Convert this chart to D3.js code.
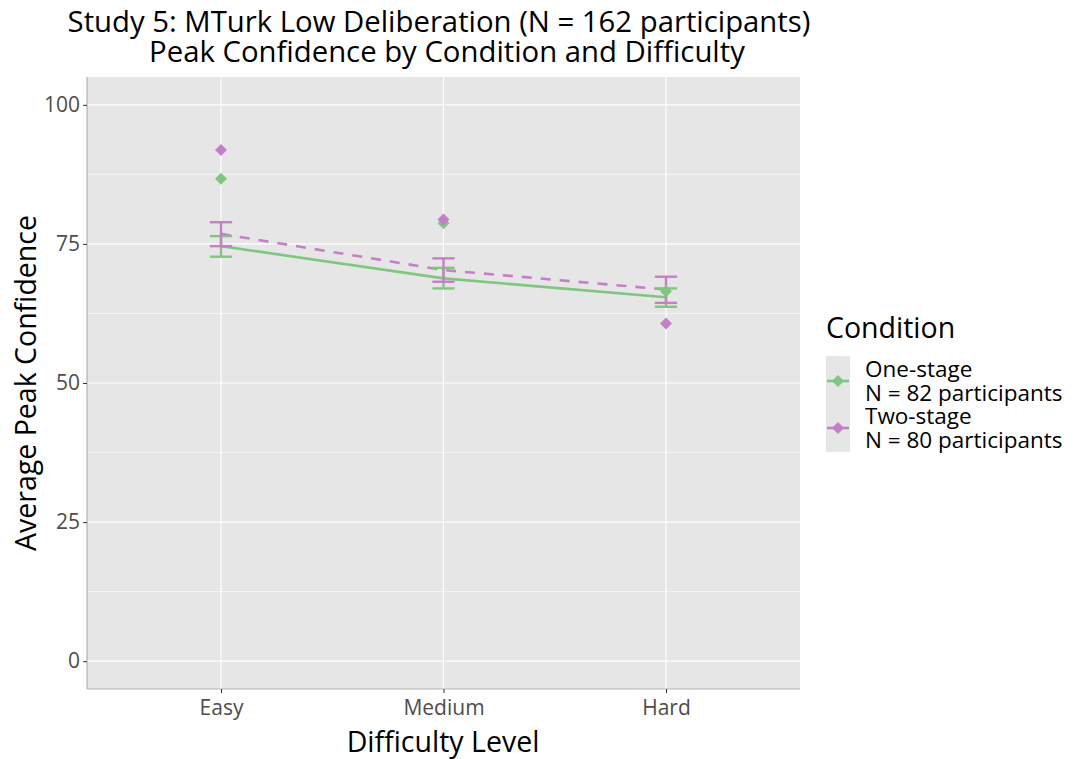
<!DOCTYPE html>
<html>
<head>
<meta charset="utf-8">
<script src="https://cdn.jsdelivr.net/npm/d3@7"></script>
<style>
  html, body { margin: 0; padding: 0; background: #ffffff; }
  svg { display: block; font-family: "Open Sans", sans-serif; }
</style>
</head>
<body>
<svg id="chart" width="1073" height="759"></svg>
<script>
// Difficulty levels on the x axis
const levels = ["Easy", "Medium", "Hard"];
const conditions = ["One-stage", "Two-stage"];
const legendLabels = ["One-stage\nN = 82 participants", "Two-stage\nN = 80 participants"];

// Mean peak confidence with error-bar bounds, per condition
const oneStageMean = [74.6, 68.8, 65.4];
const oneStageLow  = [72.7, 67.0, 63.7];
const oneStageHigh = [76.4, 70.7, 67.0];
const twoStageMean = [76.8, 70.3, 66.8];
const twoStageLow  = [74.6, 68.2, 64.4];
const twoStageHigh = [78.9, 72.4, 69.1];

// Diamond markers per condition
const oneStagePoint = [86.7, 78.7, 66.5];
const twoStagePoint = [91.9, 79.4, 60.7];

const yTicks = [0, 25, 50, 75, 100];
const yMinor = [12.5, 37.5, 62.5, 87.5];

const colors = { "One-stage": "#80c680", "Two-stage": "#c47fc6" };

const series = [
  { name: "One-stage", mean: oneStageMean, low: oneStageLow, high: oneStageHigh, pt: oneStagePoint, dash: null },
  { name: "Two-stage", mean: twoStageMean, low: twoStageLow, high: twoStageHigh, pt: twoStagePoint, dash: "10,9" }
];

const svg = d3.select("#chart");
const panel = { left: 87, right: 800, top: 77, bottom: 689 };

const x = d3.scalePoint().domain(levels).range([221, 666]);
const step = x.step();
const y = d3.scaleLinear().domain([-5, 105]).range([panel.bottom, panel.top]);

// panel background
svg.append("rect")
  .attr("x", panel.left).attr("y", panel.top)
  .attr("width", panel.right - panel.left).attr("height", panel.bottom - panel.top)
  .attr("fill", "#e6e6e6");

// grid lines
const grid = svg.append("g");
grid.selectAll(".minor").data(yMinor).join("line")
  .attr("x1", panel.left).attr("x2", panel.right)
  .attr("y1", d => y(d)).attr("y2", d => y(d))
  .attr("stroke", "#ffffff").attr("stroke-width", 0.6);
grid.selectAll(".major").data(yTicks).join("line")
  .attr("x1", panel.left).attr("x2", panel.right)
  .attr("y1", d => y(d)).attr("y2", d => y(d))
  .attr("stroke", "#ffffff").attr("stroke-width", 1.2);
grid.selectAll(".vmajor").data(levels).join("line")
  .attr("x1", d => x(d)).attr("x2", d => x(d))
  .attr("y1", panel.top).attr("y2", panel.bottom)
  .attr("stroke", "#ffffff").attr("stroke-width", 1.2);

// axes
const yAxis = d3.axisLeft(y).tickValues(yTicks).tickSize(4).tickPadding(3);
const gy = svg.append("g").attr("transform", `translate(${panel.left},0)`).call(yAxis);
gy.select(".domain").attr("d", `M0,${panel.top}V${panel.bottom}`).attr("stroke", "#b3b3b3").attr("stroke-width", 1.2);
gy.selectAll(".tick line").attr("stroke", "#333333").attr("stroke-width", 1);
gy.selectAll(".tick text").attr("fill", "#4d4d4d").attr("font-size", 21).attr("font-family", "Open Sans");

const xAxis = d3.axisBottom(x).tickSize(4).tickPadding(7);
const gx = svg.append("g").attr("transform", `translate(0,${panel.bottom})`).call(xAxis);
gx.select(".domain").attr("d", `M${panel.left},0H${panel.right}`).attr("stroke", "#b3b3b3").attr("stroke-width", 1.2);
gx.selectAll(".tick line").attr("stroke", "#333333").attr("stroke-width", 1);
gx.selectAll(".tick text").attr("fill", "#4d4d4d").attr("font-size", 21).attr("font-family", "Open Sans");

// lines of means
const line = d3.line().x((d, i) => x(levels[i])).y(d => y(d));
series.forEach(s => {
  svg.append("path")
    .attr("d", line(s.mean))
    .attr("fill", "none")
    .attr("stroke", colors[s.name])
    .attr("stroke-width", 2.6)
    .attr("stroke-dasharray", s.dash);
});

// error bars
const capHalf = step * 0.05;
series.forEach(s => {
  const g = svg.append("g").attr("stroke", colors[s.name]).attr("stroke-width", 2.4).attr("fill", "none");
  levels.forEach((lv, i) => {
    const cx = x(lv);
    g.append("line").attr("x1", cx).attr("x2", cx).attr("y1", y(s.low[i])).attr("y2", y(s.high[i]));
    g.append("line").attr("x1", cx - capHalf).attr("x2", cx + capHalf).attr("y1", y(s.low[i])).attr("y2", y(s.low[i]));
    g.append("line").attr("x1", cx - capHalf).attr("x2", cx + capHalf).attr("y1", y(s.high[i])).attr("y2", y(s.high[i]));
  });
});

// diamond markers
const diamondPath = "M0,-6L6,0L0,6L-6,0Z";
series.forEach(s => {
  svg.append("g").selectAll("path").data(s.pt).join("path")
    .attr("d", diamondPath)
    .attr("transform", (d, i) => `translate(${x(levels[i])},${y(d)})`)
    .attr("fill", colors[s.name]);
});

// titles
const title = svg.append("text").attr("text-anchor", "middle").attr("fill", "#000")
  .attr("font-size", 29.3).attr("font-family", "Open Sans");
title.append("tspan").attr("x", 439).attr("y", 32).text("Study 5: MTurk Low Deliberation (N = 162 participants)");
title.append("tspan").attr("x", 447).attr("y", 62).text("Peak Confidence by Condition and Difficulty");

svg.append("text").attr("x", 443).attr("y", 752).attr("text-anchor", "middle")
  .attr("font-size", 28.5).attr("font-family", "Open Sans").attr("fill", "#000").text("Difficulty Level");

svg.append("text").attr("transform", `translate(36,${y(50)}) rotate(-90)`).attr("text-anchor", "middle")
  .attr("font-size", 28.5).attr("font-family", "Open Sans").attr("fill", "#000").text("Average Peak Confidence");

// legend
const lg = svg.append("g").attr("transform", "translate(826,0)");
lg.append("text").attr("x", 0).attr("y", 338).attr("font-size", 28.5).attr("font-family", "Open Sans").attr("fill", "#000").text("Condition");
lg.append("rect").attr("x", 0).attr("y", 356).attr("width", 24).attr("height", 96).attr("fill", "#e6e6e6");
const keyY = [381, 428];
const labelBase = [377, 424];
conditions.forEach((c, i) => {
  lg.append("line").attr("x1", 1).attr("x2", 23).attr("y1", keyY[i]).attr("y2", keyY[i])
    .attr("stroke", colors[c]).attr("stroke-width", 2.6);
  lg.append("path").attr("d", diamondPath).attr("transform", `translate(12,${keyY[i]})`).attr("fill", colors[c]);
  const lines = legendLabels[i].split("\n");
  const t = lg.append("text").attr("font-size", 22.5).attr("font-family", "Open Sans").attr("fill", "#000");
  lines.forEach((l, j) => {
    t.append("tspan").attr("x", 39).attr("y", labelBase[i] + j * 24).text(l);
  });
});
</script>
</body>
</html>
